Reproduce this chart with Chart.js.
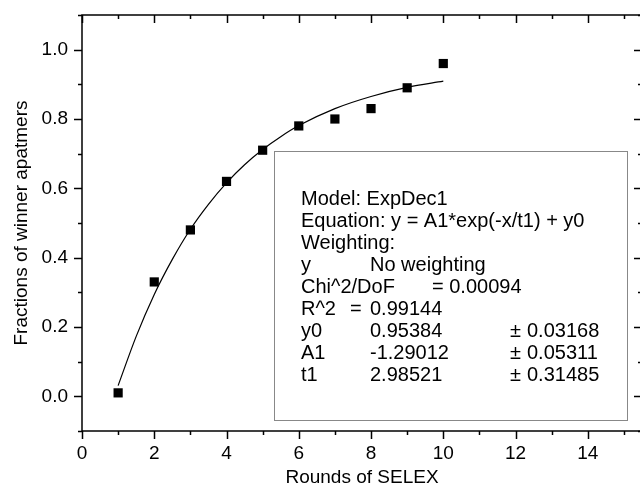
<!DOCTYPE html>
<html>
<head>
<meta charset="utf-8">
<script src="https://cdn.jsdelivr.net/npm/chart.js@4/dist/chart.umd.min.js"></script>
<style>
    html, body { margin: 0; padding: 0; background: #fff; overflow: hidden; }
    #wrap { position: relative; width: 660px; height: 496px; }
</style>
</head>
<body>
<div id="wrap"><canvas id="myChart" width="660" height="496"></canvas></div>
<script>
'use strict';

// measured points
const rounds = [1, 2, 3, 4, 5, 6, 7, 8, 9, 10];
const fractions = [0.01, 0.33, 0.48, 0.62, 0.71, 0.78, 0.80, 0.83, 0.89, 0.96];

// fitted curve
const fitX = [1, 1.5, 2, 2.5, 3, 3.5, 4, 4.5, 5, 5.5, 6, 7, 8, 9, 10];
const fitY = [0.031, 0.173, 0.294, 0.395, 0.482, 0.554, 0.616, 0.668, 0.712, 0.749, 0.781, 0.830, 0.865, 0.891, 0.909];

const xTickLabels = ['0', '2', '4', '6', '8', '10', '12', '14'];
const yTickLabels = ['0.0', '0.2', '0.4', '0.6', '0.8', '1.0'];

// fit report box rows
const statRows = [
    ['Model: ExpDec1'],
    ['Equation: y = A1*exp(-x/t1) + y0'],
    ['Weighting:'],
    ['y', 'No weighting'],
    ['Chi^2/DoF', '= 0.00094'],
    ['R^2', '=', '0.99144'],
    ['y0', '0.95384', '\u00B1', '0.03168'],
    ['A1', '-1.29012', '\u00B1', '0.05311'],
    ['t1', '2.98521', '\u00B1', '0.31485']
];

const FONT = '"Liberation Sans", Arial, sans-serif';

const framePlugin = {
    'id': 'frame',
    afterDatasetsDraw(chart) {
        const ctx = chart.ctx;
        const {left, right, top, bottom} = chart.chartArea;
        const xs = chart.scales.x;
        const ys = chart.scales.y;
        ctx.save();
        ctx.strokeStyle = '#000';
        ctx.lineWidth = 1.5;
        ctx.strokeRect(left, top, right - left, bottom - top);

        ctx.beginPath();
        for (let v = 0; v <= 15; v++) {
            const px = Math.round(xs.getPixelForValue(v)) + 0.5;
            const len = v % 2 === 0 ? 8 : 4;
            ctx.moveTo(px, bottom); ctx.lineTo(px, bottom + len);
            ctx.moveTo(px, top); ctx.lineTo(px, top + len);
        }
        for (let i = -1; i <= 11; i++) {
            const py = Math.round(ys.getPixelForValue(i / 10)) + 0.5;
            const len = (i % 2 === 0) ? 8 : 4;
            ctx.moveTo(left, py); ctx.lineTo(left - len, py);
            ctx.moveTo(right, py); ctx.lineTo(right - len, py);
        }
        ctx.stroke();

        // fit report
        const bx = 274.5, by = 151.5, bw = 353, bh = 269;
        ctx.fillStyle = '#fff';
        ctx.fillRect(bx, by, bw, bh);
        ctx.strokeStyle = '#888';
        ctx.lineWidth = 1;
        ctx.strokeRect(bx, by, bw, bh);

        ctx.fillStyle = '#000';
        ctx.font = '20px ' + FONT;
        ctx.textBaseline = 'middle';
        ctx.textAlign = 'left';
        statRows.forEach((row, i) => {
            const y = 199 + i * 22;
            let cols = [301, 370, 510, 527];
            if (row[0] === 'Chi^2/DoF') {
                cols = [301, 432];
            } else if (row[0] === 'R^2') {
                cols = [301, 350, 370];
            }
            row.forEach((txt, j) => ctx.fillText(txt, cols[j], y));
        });
        ctx.restore();
    }
};

const ctx = document.getElementById('myChart').getContext('2d');
const chart = new Chart(ctx, {
    'type': 'scatter',
    'data': {
        'datasets': [
            {
                'label': 'Fit',
                'data': fitX.map((x, i) => ({x: x, y: fitY[i]})),
                'showLine': true,
                'borderColor': '#000',
                'borderWidth': 1.2,
                'pointRadius': 0,
                'tension': 0.4,
                'cubicInterpolationMode': 'monotone'
            },
            {
                'label': 'Data',
                'data': rounds.map((x, i) => ({x: x, y: fractions[i]})),
                'pointStyle': 'rect',
                'pointRadius': 6.5,
                'backgroundColor': '#000',
                'borderColor': '#000',
                'borderWidth': 0
            }
        ]
    },
    'options': {
        'responsive': false,
        'animation': false,
        'layout': {'padding': {'top': 15, 'right': 18, 'left': 0, 'bottom': 0}},
        'plugins': {
            'legend': {'display': false},
            'tooltip': {'enabled': false}
        },
        'scales': {
            'x': {
                'type': 'linear',
                'min': 0,
                'max': 15.5,
                'grid': {'display': false, 'drawTicks': false, 'tickLength': 0},
                'border': {'display': false},
                'afterFit': (scale) => {
                    scale.height = 65;
                    scale.paddingLeft = 0;
                    scale.paddingRight = 0;
                },
                'ticks': {
                    'stepSize': 1,
                    'autoSkip': false,
                    'maxRotation': 0,
                    'padding': 11,
                    'color': '#000',
                    'font': {'family': FONT, 'size': 19},
                    'callback': (v) => xTickLabels.includes(String(v)) ? String(v) : ''
                },
                'title': {
                    'display': true,
                    'text': 'Rounds of SELEX',
                    'color': '#000',
                    'font': {'family': FONT, 'size': 19},
                    'padding': {'top': 0, 'bottom': 7}
                }
            },
            'y': {
                'type': 'linear',
                'min': -0.1,
                'max': 1.1,
                'grid': {'display': false, 'drawTicks': false, 'tickLength': 0},
                'border': {'display': false},
                'afterFit': (scale) => {
                    scale.width = 82;
                    scale.paddingTop = 0;
                    scale.paddingBottom = 0;
                },
                'ticks': {
                    'stepSize': 0.1,
                    'autoSkip': false,
                    'padding': 14,
                    'color': '#000',
                    'font': {'family': FONT, 'size': 19},
                    'callback': (v) => {
                        const s = (Math.round(v * 10) / 10).toFixed(1);
                        return yTickLabels.includes(s) ? s : '';
                    }
                },
                'title': {
                    'display': true,
                    'text': 'Fractions of winner apatmers',
                    'color': '#000',
                    'font': {'family': FONT, 'size': 19},
                    'padding': {'top': 10, 'bottom': 0}
                }
            }
        }
    },
    'plugins': [framePlugin]
});
</script>
</body>
</html>
